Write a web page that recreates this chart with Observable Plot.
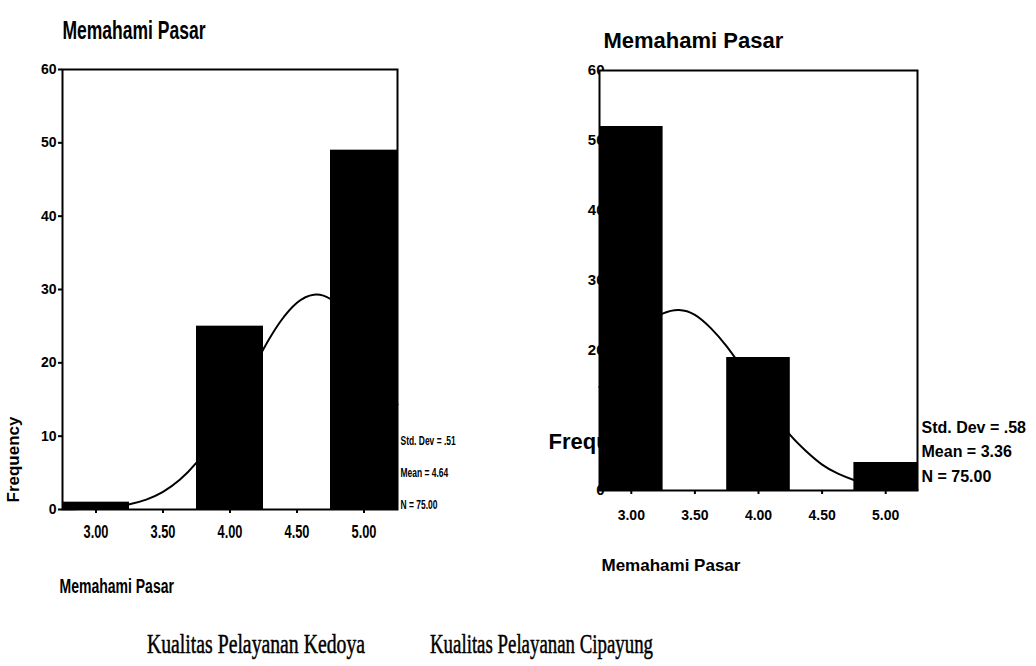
<!DOCTYPE html>
<html>
<head>
<meta charset="utf-8">
<script src="https://cdn.jsdelivr.net/npm/d3@7"></script>
<script src="https://cdn.jsdelivr.net/npm/@observablehq/plot@0.6"></script>
<style>
  html, body { margin: 0; padding: 0; background: #fff; }
  #page { position: relative; width: 1036px; height: 666px; overflow: hidden; background: #fff; }
  #left, #right, #captions { position: absolute; top: 0; }
  #left { left: 0; }
  #right { left: 520px; }
  #captions { left: 0; }
</style>
</head>
<body>
<div id="page">
  <div id="left"></div>
  <div id="right"></div>
  <svg id="captions" width="1036" height="666"></svg>
</div>
<script>
// ---- data ----
const binCenters = [3.0, 3.5, 4.0, 4.5, 5.0];
const kedoyaCounts = [1, 0, 25, 0, 49];
const cipayungCounts = [52, 0, 19, 0, 4];

const curveX = [2.75, 2.875, 3.0, 3.125, 3.25, 3.375, 3.5, 3.625, 3.75, 3.875, 4.0,
                4.125, 4.25, 4.375, 4.5, 4.625, 4.75, 4.875, 5.0, 5.125, 5.25];
const kedoyaCurve = [0.03, 0.07, 0.17, 0.36, 0.72, 1.35, 2.41, 4.05, 6.4, 9.5, 13.3,
                     17.6, 21.9, 25.6, 28.2, 29.3, 28.7, 26.4, 22.9, 18.7, 14.3];
const cipayungCurve = [14.8, 18.2, 21.3, 23.8, 25.3, 25.8, 25.1, 23.2, 20.6, 17.4, 14.0,
                       10.8, 7.9, 5.6, 3.7, 2.4, 1.5, 0.85, 0.47, 0.25, 0.12];

const xTicks = [3.0, 3.5, 4.0, 4.5, 5.0];
const yTicksLeft = [0, 10, 20, 30, 40, 50, 60];
const yTicksRight = [0, 20, 30, 40, 50, 60];

const chartTitle = "Memahami Pasar";
const xLabel = "Memahami Pasar";
const yLabel = "Frequency";
const kedoyaStats = ["Std. Dev = .51", "Mean = 4.64", "N = 75.00"];
const cipayungStats = ["Std. Dev = .58", "Mean = 3.36", "N = 75.00"];
const captions = ["Kualitas Pelayanan Kedoya", "Kualitas Pelayanan Cipayung"];

// ---- derived tables ----
const halfBin = 0.25;
const kedoyaBins = binCenters.map((c, i) => ({x1: c - halfBin, x2: c + halfBin, count: kedoyaCounts[i]}));
const cipayungBins = binCenters.map((c, i) => ({x1: c - halfBin, x2: c + halfBin, count: cipayungCounts[i]}));
const kedoyaLine = curveX.map((x, i) => ({x, y: kedoyaCurve[i]}));
const cipayungLine = curveX.map((x, i) => ({x, y: cipayungCurve[i]}));
const fmt = d3.format(".2f");

const sans = "'Liberation Sans',Arial,sans-serif";

// ---- left chart (Kedoya) ----
const leftStatDy = [-65, -33, -1];
const left = Plot.plot({
  width: 460, height: 600,
  marginTop: 69, marginLeft: 62, marginRight: 63, marginBottom: 91,
  style: {fontFamily: sans, fontWeight: "bold", color: "black", background: "white", overflow: "visible"},
  x: {domain: [2.75, 5.25]},
  y: {domain: [0, 60], axis: null},
  marks: [
    Plot.axisY(yTicksLeft, {tickSize: 4, tickPadding: 2, fontSize: 14, label: null, strokeWidth: 2}),
    Plot.axisX(xTicks, {tickSize: 4, tickPadding: 12, fontSize: 18, tickFormat: fmt, label: null, strokeWidth: 2}),
    Plot.line(kedoyaLine, {x: "x", y: "y", curve: "natural", stroke: "black", strokeWidth: 2}),
    Plot.rectY(kedoyaBins, {x1: "x1", x2: "x2", y: "count", fill: "black"}),
    Plot.frame({stroke: "black", strokeWidth: 2}),
    Plot.text([chartTitle], {text: d => d, frameAnchor: "top-left", dy: -48, textAnchor: "start", fontSize: 25}),
    Plot.text([yLabel], {text: d => d, frameAnchor: "bottom-left", dx: -44, dy: -50, rotate: -90,
      textAnchor: "middle", fontSize: 17}),
    ...kedoyaStats.map((s, i) => Plot.text([s], {text: d => d, frameAnchor: "bottom-right", dx: 3, dy: leftStatDy[i],
      textAnchor: "start", fontSize: 13})),
    Plot.text([xLabel], {text: d => d, frameAnchor: "bottom-left", dx: -3, dy: 83, textAnchor: "start", fontSize: 20})
  ]
});
document.getElementById("left").append(left);

// condense the left chart's lettering (it is set in a narrow face in the original)
d3.select(left).selectAll("text").each(function () {
  const t = this.textContent;
  let f = 1;
  if (kedoyaStats.includes(t)) f = 0.65;
  else if (t === chartTitle) f = 0.70;
  else if (xTicks.map(fmt).includes(t)) f = 0.71;
  if (f === 1 && t === xLabel) f = 0.75;
  if (f === 1) return;
  const len = this.getComputedTextLength();
  this.setAttribute("textLength", (len * f).toFixed(1));
  this.setAttribute("lengthAdjust", "spacingAndGlyphs");
});

// ---- right chart (Cipayung) ----
const rightStatDy = [-58, -34, -9];
const right = Plot.plot({
  width: 516, height: 600,
  marginTop: 70, marginLeft: 79, marginRight: 119, marginBottom: 110,
  style: {fontFamily: sans, fontWeight: "bold", color: "black", background: "white", overflow: "visible"},
  x: {domain: [2.75, 5.25]},
  y: {domain: [0, 60], axis: null},
  marks: [
    Plot.text(yTicksRight, {y: d => d, text: d => String(d), frameAnchor: "left", dx: 5, textAnchor: "end", fontSize: 15}),
    Plot.text([yLabel], {text: d => d, frameAnchor: "bottom-left", dx: -51, dy: -42, textAnchor: "start", fontSize: 22}),
    Plot.frame({fill: "white"}),
    Plot.axisX(xTicks, {tickSize: 4, tickPadding: 16, fontSize: 14, tickFormat: fmt, label: null, strokeWidth: 2}),
    Plot.line(cipayungLine, {x: "x", y: "y", curve: "natural", stroke: "black", strokeWidth: 2}),
    Plot.rectY(cipayungBins, {x1: "x1", x2: "x2", y: "count", fill: "black"}),
    Plot.frame({stroke: "black", strokeWidth: 2}),
    Plot.text([chartTitle], {text: d => d, frameAnchor: "top-left", dx: 4, dy: -38, textAnchor: "start", fontSize: 22}),
    ...cipayungStats.map((s, i) => Plot.text([s], {text: d => d, frameAnchor: "bottom-right", dx: 4, dy: rightStatDy[i],
      textAnchor: "start", fontSize: 16})),
    Plot.text([xLabel], {text: d => d, frameAnchor: "bottom-left", dx: 2, dy: 80, textAnchor: "start", fontSize: 17})
  ]
});
document.getElementById("right").append(right);

// ---- captions ----
const capSvg = d3.select("#captions");
const capX = [147, 430], capW = [218, 223];
captions.forEach((c, i) => {
  capSvg.append("text")
    .attr("x", capX[i]).attr("y", 653)
    .attr("font-family", "'Liberation Serif','Times New Roman',serif")
    .attr("font-size", 28)
    .attr("textLength", capW[i]).attr("lengthAdjust", "spacingAndGlyphs")
    .attr("fill", "black").attr("stroke", "black").attr("stroke-width", 0.5)
    .text(c);
});
</script>
</body>
</html>
